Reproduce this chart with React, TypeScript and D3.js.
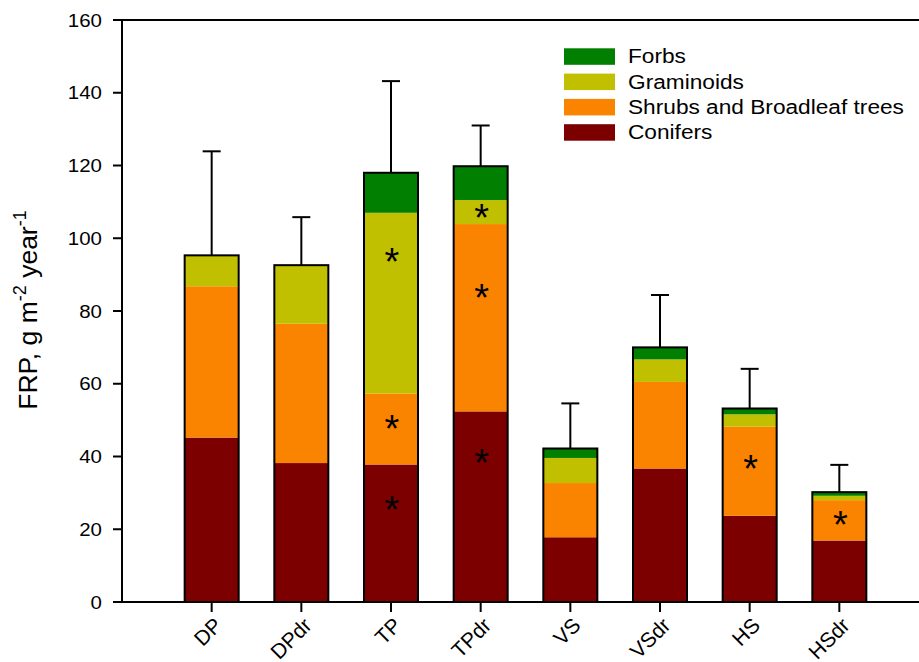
import React from "react";
import * as d3 from "d3";

// site categories
const sites = ["DP", "DPdr", "TP", "TPdr", "VS", "VSdr", "HS", "HSdr"];

// stacked components, bottom to top
const conifers = [45.2, 38.2, 37.8, 52.4, 17.8, 36.7, 23.7, 16.9];
const shrubs = [41.6, 38.3, 19.5, 51.5, 14.9, 23.8, 24.5, 11.1];
const graminoids = [8.5, 16.1, 49.7, 6.6, 6.9, 6.2, 3.4, 1.2];
const forbs = [0, 0, 11.0, 9.3, 2.6, 3.3, 1.6, 1.0];

// upper error (total + SE)
const errTop = [123.9, 105.8, 143.2, 131.0, 54.6, 84.4, 64.1, 37.7];

// asterisks: [site, y value]
const stars: [string, number][] = [
  ["TP", 94.8], ["TP", 48.8], ["TP", 26.7],
  ["TPdr", 107], ["TPdr", 84.9], ["TPdr", 39.5],
  ["HS", 37.9], ["HSdr", 22.5],
];

const yTicks = [0, 20, 40, 60, 80, 100, 120, 140, 160];

const seriesNames = ["Conifers", "Shrubs and Broadleaf trees", "Graminoids", "Forbs"];
const colors = ["#7c0000", "#fa8400", "#c0c000", "#007f00"];

export default function App() {
  const W = 919, H = 662;
  const left = 122, top = 20, bottom = 602;

  const x = d3.scalePoint<string>().domain(sites).range([left, 929]).padding(1);
  const y = d3.scaleLinear().domain([0, 160]).range([bottom, top]);
  const barW = 54;

  const rows = sites.map((s, i) => ({
    site: s,
    Conifers: conifers[i],
    "Shrubs and Broadleaf trees": shrubs[i],
    Graminoids: graminoids[i],
    Forbs: forbs[i],
  }));
  const stacked = d3.stack<any>().keys(seriesNames)(rows);
  const totals = rows.map((r, i) => conifers[i] + shrubs[i] + graminoids[i] + forbs[i]);

  const font = "Arial, 'Liberation Sans', sans-serif";

  return (
    <svg width={W} height={H} style={{ position: "absolute", left: 0, top: 0, background: "#fff" }} fontFamily={font}>
      {/* bars */}
      {stacked.map((layer, li) => (
        <g key={layer.key} fill={colors[li]}>
          {layer.map((d, i) => (
            <rect key={i} x={x(sites[i])! - barW / 2} width={barW} y={y(d[1])} height={y(d[0]) - y(d[1])} />
          ))}
        </g>
      ))}
      {/* outline + error bars */}
      {sites.map((s, i) => {
        const cx = x(s)!;
        return (
          <g key={s} stroke="#000" strokeWidth={2} fill="none">
            <rect x={cx - barW / 2} y={y(totals[i])} width={barW} height={y(0) - y(totals[i])} />
            <line x1={cx} x2={cx} y1={y(totals[i])} y2={y(errTop[i])} />
            <line x1={cx - 9} x2={cx + 9} y1={y(errTop[i])} y2={y(errTop[i])} />
          </g>
        );
      })}
      {stars.map(([s, v], i) => (
        <text key={i} x={x(s)! + 1} y={y(v) + 18} textAnchor="middle" fontSize={38} fill="#000">*</text>
      ))}

      {/* axes */}
      <line x1={left} x2={W} y1={top} y2={top} stroke="#000" strokeWidth={2} />
      <line x1={left} x2={W} y1={bottom} y2={bottom} stroke="#000" strokeWidth={2} />
      <line x1={left} x2={left} y1={top - 1} y2={bottom + 1} stroke="#000" strokeWidth={2} />
      {yTicks.map((t) => (
        <g key={t}>
          <line x1={left - 9} x2={left} y1={y(t)} y2={y(t)} stroke="#000" strokeWidth={2} />
          <text transform={`translate(102,${y(t)}) scale(1.1,1)`} dy="0.36em" textAnchor="end" fontSize={18.6}>{t}</text>
        </g>
      ))}
      {sites.map((s) => (
        <g key={s}>
          <line x1={x(s)} x2={x(s)} y1={bottom} y2={bottom + 10} stroke="#000" strokeWidth={2} />
          <text transform={`translate(${x(s)! + 1},${bottom + 14}) rotate(-45)`} textAnchor="end" dy="0.72em" fontSize={21}>{s}</text>
        </g>
      ))}

      {/* y title */}
      <text transform={`translate(37,310) rotate(-90)`} textAnchor="middle" fontSize={26.5}>
        FRP, g m<tspan dy={-11} fontSize={18}>-2</tspan>
        <tspan dy={11}> year</tspan>
        <tspan dy={-11} fontSize={18}>-1</tspan>
      </text>

      {/* legend */}
      {[...seriesNames].reverse().map((n, i) => (
        <g key={n} transform={`translate(564,${48.3 + i * 25.3})`}>
          <rect width={51} height={16.5} fill={colors[3 - i]} />
          <text transform="translate(64,15) scale(1.08,1)" fontSize={21}>{n}</text>
        </g>
      ))}
    </svg>
  );
}
